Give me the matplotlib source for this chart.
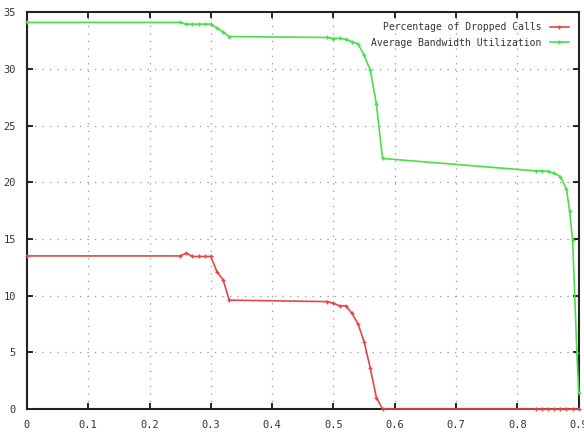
import matplotlib
matplotlib.use("Agg")
import matplotlib.pyplot as plt

dropped_x = [0.0, 0.25, 0.26, 0.27, 0.28, 0.29, 0.30, 0.31, 0.32, 0.33,
             0.49, 0.50, 0.51, 0.52, 0.53, 0.54, 0.55, 0.56, 0.57, 0.58,
             0.83, 0.84, 0.85, 0.86, 0.87, 0.88, 0.89, 0.90]
dropped_y = [13.5, 13.5, 13.75, 13.45, 13.45, 13.45, 13.45, 12.1, 11.4, 9.6,
             9.47, 9.33, 9.1, 9.1, 8.45, 7.5, 5.95, 3.6, 1.0, 0.0,
             0.0, 0.0, 0.0, 0.0, 0.0, 0.0, 0.0, 0.0]

bw_x = [0.0, 0.25, 0.26, 0.27, 0.28, 0.29, 0.30, 0.31, 0.32, 0.33,
        0.49, 0.50, 0.51, 0.52, 0.53, 0.54, 0.55, 0.56, 0.57, 0.58,
        0.83, 0.84, 0.85, 0.86, 0.87, 0.88, 0.885, 0.89, 0.897, 0.90]
bw_y = [34.1, 34.1, 33.95, 33.95, 33.95, 33.95, 33.95, 33.6, 33.25, 32.85,
        32.77, 32.68, 32.7, 32.6, 32.4, 32.2, 31.2, 29.9, 26.9, 22.1,
        21.0, 21.0, 20.95, 20.8, 20.5, 19.4, 17.5, 14.9, 4.9, 1.4]

labels = ["Percentage of Dropped Calls", "Average Bandwidth Utilization"]
xticks = [0, 0.1, 0.2, 0.3, 0.4, 0.5, 0.6, 0.7, 0.8, 0.9]
yticks = [0, 5, 10, 15, 20, 25, 30, 35]

fig = plt.figure(figsize=(5.84, 4.36), dpi=100)
ax = fig.add_axes([0.046, 0.062, 0.945, 0.910])

ax.plot(dropped_x, dropped_y, color="#e04848", lw=1.2, marker="+",
        ms=3.5, mew=1.0, label=labels[0], zorder=3, clip_on=False)
ax.plot(bw_x, bw_y, color="#48e048", lw=1.2, marker="+",
        ms=3.5, mew=1.0, label=labels[1], zorder=3, clip_on=False)

ax.set_xlim(0, 0.9)
ax.set_ylim(0, 35)
ax.set_xticks(xticks)
ax.set_yticks(yticks)
ax.set_xticklabels(["0" if t == 0 else f"{t:.1f}" for t in xticks])
ax.grid(True, linestyle=(0, (1, 5)), color="#999999", lw=0.9)
ax.tick_params(direction="in", top=True, right=True, length=4, width=1.2,
               labelsize=7.5, pad=8, labelcolor="#333333")
for lab in ax.get_xticklabels() + ax.get_yticklabels():
    lab.set_family("DejaVu Sans Mono")
for s in ax.spines.values():
    s.set_linewidth(1.5)
    s.set_color("#222222")

leg = ax.legend(loc="upper right", frameon=False, markerfirst=False,
                prop={"family": "DejaVu Sans Mono", "size": 7},
                handlelength=2.0, borderaxespad=0.6, labelspacing=0.6)
for t in leg.get_texts():
    t.set_color("#333333")

fig.savefig("out.png", dpi=100)
